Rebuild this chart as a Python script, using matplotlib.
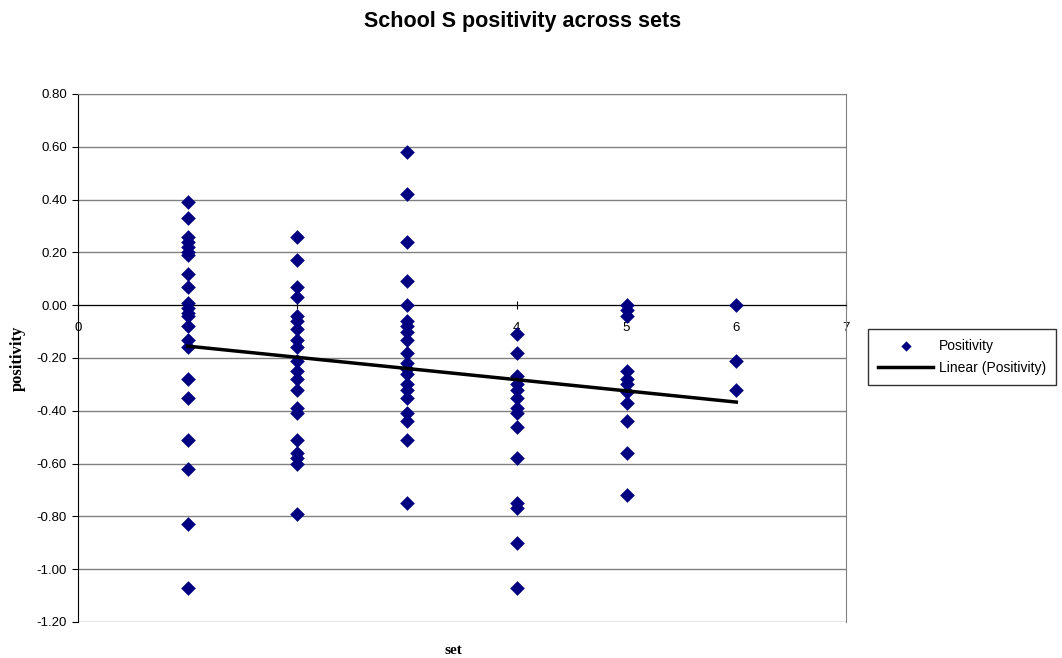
import numpy as np
import matplotlib
matplotlib.use("Agg")
import matplotlib.pyplot as plt

plt.rcParams['font.family'] = ['Liberation Sans', 'DejaVu Sans']

# positivity values read per set
set1 = [0.39, 0.33, 0.26, 0.24, 0.22, 0.20, 0.19, 0.12, 0.07, 0.01, -0.01, -0.03,
        -0.04, -0.08, -0.13, -0.16, -0.28, -0.35, -0.51, -0.62, -0.83, -1.07]
set2 = [0.26, 0.17, 0.07, 0.03, -0.04, -0.06, -0.09, -0.13, -0.16, -0.21, -0.25,
        -0.28, -0.32, -0.39, -0.41, -0.51, -0.56, -0.58, -0.60, -0.79]
set3 = [0.58, 0.42, 0.24, 0.09, 0.00, -0.06, -0.08, -0.10, -0.13, -0.18, -0.22,
        -0.24, -0.26, -0.30, -0.32, -0.35, -0.41, -0.44, -0.51, -0.75]
set4 = [-0.11, -0.18, -0.27, -0.30, -0.32, -0.35, -0.39, -0.41, -0.46, -0.58,
        -0.75, -0.77, -0.90, -1.07]
set5 = [0.00, -0.02, -0.04, -0.25, -0.28, -0.30, -0.33, -0.37, -0.44, -0.56, -0.72]
set6 = [0.00, -0.21, -0.32]

# linear trend as shown on the chart (values at set 1 and set 6)
trend_x = [1, 6]
trend_y = [-0.155, -0.367]

groups = [set1, set2, set3, set4, set5, set6]
x = []
y = []
for i, g in enumerate(groups, 1):
    x += [i] * len(g)
    y += g

yticks = np.round(np.arange(-1.2, 0.81, 0.2), 2)
ytick_labels = ["%.2f" % (v + 0.0) for v in yticks]
ytick_labels = [s.replace("-0.00", "0.00") for s in ytick_labels]

fig = plt.figure(figsize=(10.62, 6.58), dpi=100)
ax = fig.add_axes([78 / 1062, 36 / 658, 768 / 1062, 528 / 658])

ax.scatter(x, y, marker="D", s=56, color="#000080", zorder=3, label="Positivity",
           linewidths=0)
ax.plot(trend_x, trend_y, color="black", lw=2.5, zorder=4, label="Linear (Positivity)")

ax.set_xlim(0, 7)
ax.set_ylim(-1.2, 0.8)
ax.set_yticks(yticks)
ax.set_yticklabels(ytick_labels, fontsize=9.5)
ax.set_xticks(range(8))
ax.tick_params(axis="x", labelsize=9.5, direction="inout", length=6, pad=9)
ax.tick_params(axis="y", direction="out", length=4, pad=4)
ax.grid(axis="y", color="#808080", lw=1)
ax.set_axisbelow(True)

ax.spines["bottom"].set_position(("data", 0))
ax.spines["bottom"].set_color("black")
ax.spines["left"].set_color("black")
ax.spines["top"].set_color("#808080")
ax.spines["right"].set_color("#808080")

fig.text(523 / 1062, 1 - 21 / 658, "School S positivity across sets", fontsize=15.5,
         fontweight="bold", ha="center", va="center")
ax.set_ylabel("positivity", family="Liberation Serif", fontweight="bold",
              fontsize=12, labelpad=8)
fig.text(453 / 1062, 1 - 650 / 658, "set", family="Liberation Serif",
         fontweight="bold", fontsize=11, ha="center", va="center")

leg = ax.legend(loc="center left", bbox_to_anchor=(868 / 1062, 1 - 357 / 658),
                bbox_transform=fig.transFigure, borderaxespad=0, fontsize=10,
                frameon=True, fancybox=False, edgecolor="black", borderpad=0.7,
                handlelength=4.0, handletextpad=0.4, labelspacing=0.6,
                markerscale=0.7)
leg.get_frame().set_linewidth(1)

fig.savefig("out.png", dpi=100)
